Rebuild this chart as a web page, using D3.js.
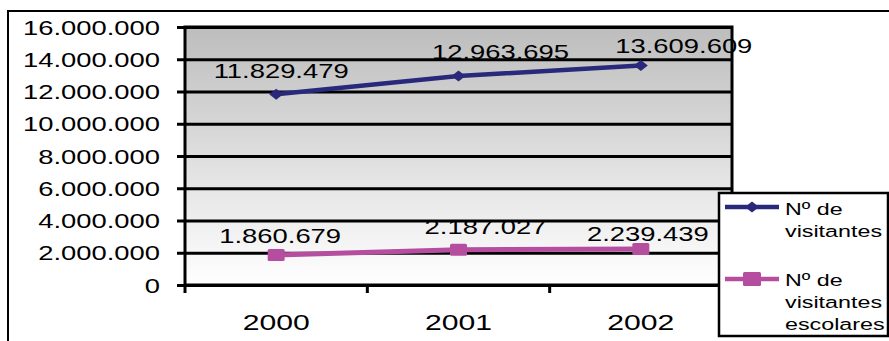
<!DOCTYPE html>
<html>
<head>
<meta charset="utf-8">
<script src="https://cdn.jsdelivr.net/npm/d3@7"></script>
<style>
  body { margin: 0; background: #fff; }
  text { font-family: "Liberation Sans", Arial, sans-serif; fill: #000; }
</style>
</head>
<body>
<div id="chart"></div>
<script>
// Chart data
var years = ["2000", "2001", "2002"];
var visitantes = [11829479, 12963695, 13609609];
var escolares = [1860679, 2187027, 2239439];
var yTicks = [0, 2000000, 4000000, 6000000, 8000000, 10000000, 12000000, 14000000, 16000000];
var seriesNames = [["Nº de", "visitantes"], ["Nº de", "visitantes", "escolares"]];

// SVG size and plot box
var svgWidth = 889;
var svgHeight = 341;
var plot = { left: 185, top: 27, right: 732, bottom: 285 };
var sx = 1.37; // the original text is stretched sideways

// label nudges (dx, dy) relative to each point
var blueNudge = [[5, -16], [42, -17], [43, -13]];
var pinkNudge = [[4, -12], [27, -16], [7, -8]];

var fmt = d3.formatLocale({ decimal: ",", thousands: ".", grouping: [3], currency: ["", ""] }).format(",d");

var svg = d3.select("#chart")
  .append("svg")
  .attr("width", svgWidth)
  .attr("height", svgHeight);

// gradient for plot area
var grad = svg.append("defs").append("linearGradient")
  .attr("id", "bg")
  .attr("x1", 0).attr("y1", 0).attr("x2", 0).attr("y2", 1);
grad.append("stop").attr("offset", "0%").attr("stop-color", "#bdbdbd");
grad.append("stop").attr("offset", "100%").attr("stop-color", "#ffffff");

// outer chart border
svg.append("rect")
  .attr("x", 8).attr("y", 11)
  .attr("width", 920).attr("height", 400)
  .attr("fill", "#fff")
  .attr("stroke", "#000")
  .attr("stroke-width", 2);

var xScale = d3.scaleBand()
  .domain(years)
  .range([plot.left, plot.right]);

var yScale = d3.scaleLinear()
  .domain([0, 16000000])
  .range([plot.bottom, plot.top]);

// plot background
svg.append("rect")
  .attr("x", plot.left).attr("y", plot.top)
  .attr("width", plot.right - plot.left)
  .attr("height", plot.bottom - plot.top)
  .attr("fill", "url(#bg)");

// gridlines
svg.append("g")
  .attr("transform", `translate(${plot.left},0)`)
  .call(d3.axisLeft(yScale).tickValues(yTicks).tickSize(-(plot.right - plot.left)).tickFormat(""))
  .call(g => g.select(".domain").remove())
  .selectAll("line")
  .attr("stroke", "#000")
  .attr("stroke-width", 3);

// plot border
svg.append("rect")
  .attr("x", plot.left).attr("y", plot.top)
  .attr("width", plot.right - plot.left)
  .attr("height", plot.bottom - plot.top)
  .attr("fill", "none")
  .attr("stroke", "#000")
  .attr("stroke-width", 3);

// y axis
var yAxis = svg.append("g")
  .attr("transform", `translate(${plot.left},0)`)
  .call(d3.axisLeft(yScale).tickValues(yTicks).tickSize(8).tickFormat(fmt));
yAxis.select(".domain").remove();
yAxis.selectAll("line").attr("stroke", "#000").attr("stroke-width", 3);
yAxis.selectAll("text")
  .attr("x", -25 / sx)
  .attr("dy", "0.35em")
  .attr("transform", `scale(${sx},1)`)
  .style("font-size", "20px")
  .style("font-family", "'Liberation Sans', Arial, sans-serif");

// x axis ticks on category boundaries
var bounds = years.map(d => xScale(d)).concat([plot.right]);
svg.append("g").selectAll("line")
  .data(bounds)
  .enter()
  .append("line")
  .attr("x1", d => d).attr("x2", d => d)
  .attr("y1", plot.bottom).attr("y2", plot.bottom + 8)
  .attr("stroke", "#000")
  .attr("stroke-width", 3);

// x labels
svg.append("g").selectAll("g")
  .data(years)
  .enter()
  .append("g")
  .attr("transform", d => `translate(${xScale(d) + xScale.bandwidth() / 2},330)`)
  .append("text")
  .attr("text-anchor", "middle")
  .attr("transform", `scale(${sx},1)`)
  .style("font-size", "22px")
  .text(d => d);

var cx = d => xScale(d) + xScale.bandwidth() / 2;

function drawSeries(values, color, width, marker, nudge) {
  var pts = years.map((y, i) => [cx(y), yScale(values[i])]);
  svg.append("path")
    .attr("d", d3.line()(pts))
    .attr("fill", "none")
    .attr("stroke", color)
    .attr("stroke-width", width);

  var g = svg.append("g").selectAll("g")
    .data(pts)
    .enter()
    .append("g")
    .attr("transform", d => `translate(${d[0]},${d[1]})`);
  marker(g);

  svg.append("g").selectAll("g")
    .data(pts)
    .enter()
    .append("g")
    .attr("transform", (d, i) => `translate(${d[0] + nudge[i][0]},${d[1] + nudge[i][1]})`)
    .append("text")
    .attr("text-anchor", "middle")
    .attr("transform", `scale(${sx},1)`)
    .style("font-size", "20px")
    .text((d, i) => fmt(values[i]));
}

var blue = "#29297c";
var pink = "#b64ea0";

function diamond(g) {
  g.append("path")
    .attr("d", "M-7,0L0,-5.5L7,0L0,5.5Z")
    .attr("fill", blue);
}
function square(w, h) {
  return function(g) {
    g.append("rect")
      .attr("x", -w / 2).attr("y", -h / 2)
      .attr("width", w).attr("height", h)
      .attr("rx", 1.5)
      .attr("fill", pink);
  };
}

drawSeries(visitantes, blue, 4.5, diamond, blueNudge);
drawSeries(escolares, pink, 5, square(17, 12), pinkNudge);

// legend
var legend = svg.append("g");
legend.append("rect")
  .attr("x", 719).attr("y", 193)
  .attr("width", 169).attr("height", 143)
  .attr("fill", "#fff")
  .attr("stroke", "#000")
  .attr("stroke-width", 2.5);

var legendItems = [
  { color: blue, y: 207, textY: 215, marker: diamond, names: seriesNames[0] },
  { color: pink, y: 279, textY: 286, marker: square(18, 14), names: seriesNames[1] }
];

legendItems.forEach(function(item) {
  legend.append("line")
    .attr("x1", 725).attr("x2", 779)
    .attr("y1", item.y).attr("y2", item.y)
    .attr("stroke", item.color)
    .attr("stroke-width", 4.5);
  item.marker(legend.append("g").attr("transform", `translate(752,${item.y})`));
  item.names.forEach(function(name, i) {
    legend.append("g")
      .attr("transform", `translate(785,${item.textY + i * 22})`)
      .append("text")
      .attr("transform", `scale(${sx},1)`)
      .style("font-size", "17px")
      .text(name);
  });
});
</script>
</body>
</html>
